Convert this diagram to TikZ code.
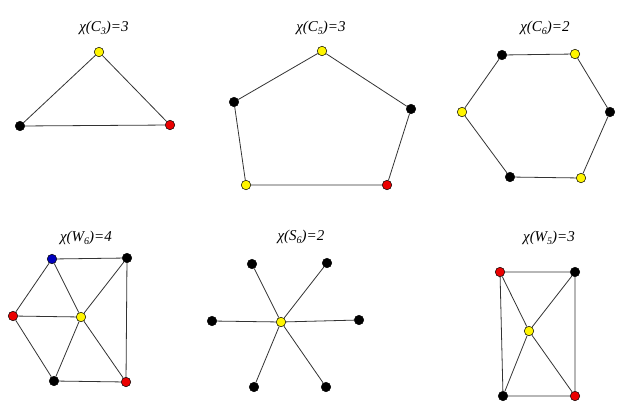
\documentclass[tikz,border=0pt]{standalone}
\usepackage{fontspec}
\setmainfont{Liberation Serif}
\definecolor{vyellow}{RGB}{255,245,0}
\definecolor{vred}{RGB}{235,0,0}
\definecolor{vblue}{RGB}{0,0,190}
\newcommand{\lowsub}[1]{\raisebox{-0.45ex}{\fontsize{10}{12}\selectfont #1}}
\tikzset{
	vtx/.style={circle, draw=black, line width=0.5pt, inner sep=0pt, minimum size=9.5pt, fill=#1},
	vtx/.default=black,
	edge/.style={draw=black!80, line width=0.8pt},
	ttl/.style={font=\fontsize{15}{17}\selectfont\itshape}
}
\begin{document}
\begin{tikzpicture}[x=1pt, y=-1pt]
	\useasboundingbox (0,0) rectangle (624,410);
	% C_3
	\node[ttl] (t1) at (104,28) {χ(C\lowsub{3})=3};
	\node[vtx=vyellow] (a1) at (99,52) {};
	\node[vtx] (a2) at (20,126) {};
	\node[vtx=vred] (a3) at (170,125) {};
	\draw[edge] (a1) -- (a2) -- (a3) -- (a1);
	% C_5
	\node[ttl] (t2) at (321,28) {χ(C\lowsub{5})=3};
	\node[vtx=vyellow] (b1) at (322,51) {};
	\node[vtx] (b2) at (411,109) {};
	\node[vtx=vred] (b3) at (387,185) {};
	\node[vtx=vyellow] (b4) at (246,185) {};
	\node[vtx] (b5) at (234,102) {};
	\draw[edge] (b1) -- (b2) -- (b3) -- (b4) -- (b5) -- (b1);
	% C_6
	\node[ttl] (t3) at (545,28) {χ(C\lowsub{6})=2};
	\node[vtx] (c1) at (502,55) {};
	\node[vtx=vyellow] (c2) at (575,54) {};
	\node[vtx] (c3) at (610,112) {};
	\node[vtx=vyellow] (c4) at (581,178) {};
	\node[vtx] (c5) at (510,177) {};
	\node[vtx=vyellow] (c6) at (462,112) {};
	\draw[edge] (c1) -- (c2) -- (c3) -- (c4) -- (c5) -- (c6) -- (c1);
	% W_6
	\node[ttl] (t4) at (86,238) {χ(W\lowsub{6})=4};
	\node[vtx=vyellow] (w0) at (81,317) {};
	\node[vtx=vblue] (w1) at (52,259) {};
	\node[vtx] (w2) at (127,258) {};
	\node[vtx=vred] (w3) at (126,382) {};
	\node[vtx] (w4) at (54,381) {};
	\node[vtx=vred] (w5) at (13,316) {};
	\draw[edge] (w1) -- (w2) -- (w3) -- (w4) -- (w5) -- (w1);
	\foreach \i in {1,...,5}
		\draw[edge] (w0) -- (w\i);
	% S_6
	\node[ttl] (t5) at (301,237) {χ(S\lowsub{6})=2};
	\node[vtx=vyellow] (s0) at (281,322) {};
	\node[vtx] (s1) at (252,264) {};
	\node[vtx] (s2) at (327,263) {};
	\node[vtx] (s3) at (359,320) {};
	\node[vtx] (s4) at (326,387) {};
	\node[vtx] (s5) at (254,387) {};
	\node[vtx] (s6) at (212,321) {};
	\foreach \i in {1,...,6}
		\draw[edge] (s0) -- (s\i);
	% W_5
	\node[ttl] (t6) at (549,238) {χ(W\lowsub{5})=3};
	\node[vtx=vyellow] (u0) at (529,331) {};
	\node[vtx=vred] (u1) at (500,272) {};
	\node[vtx] (u2) at (575,272) {};
	\node[vtx=vred] (u3) at (575,396) {};
	\node[vtx] (u4) at (503,396) {};
	\draw[edge] (u1) -- (u2) -- (u3) -- (u4) -- (u1);
	\foreach \i in {1,...,4}
		\draw[edge] (u0) -- (u\i);
\end{tikzpicture}
\end{document}
